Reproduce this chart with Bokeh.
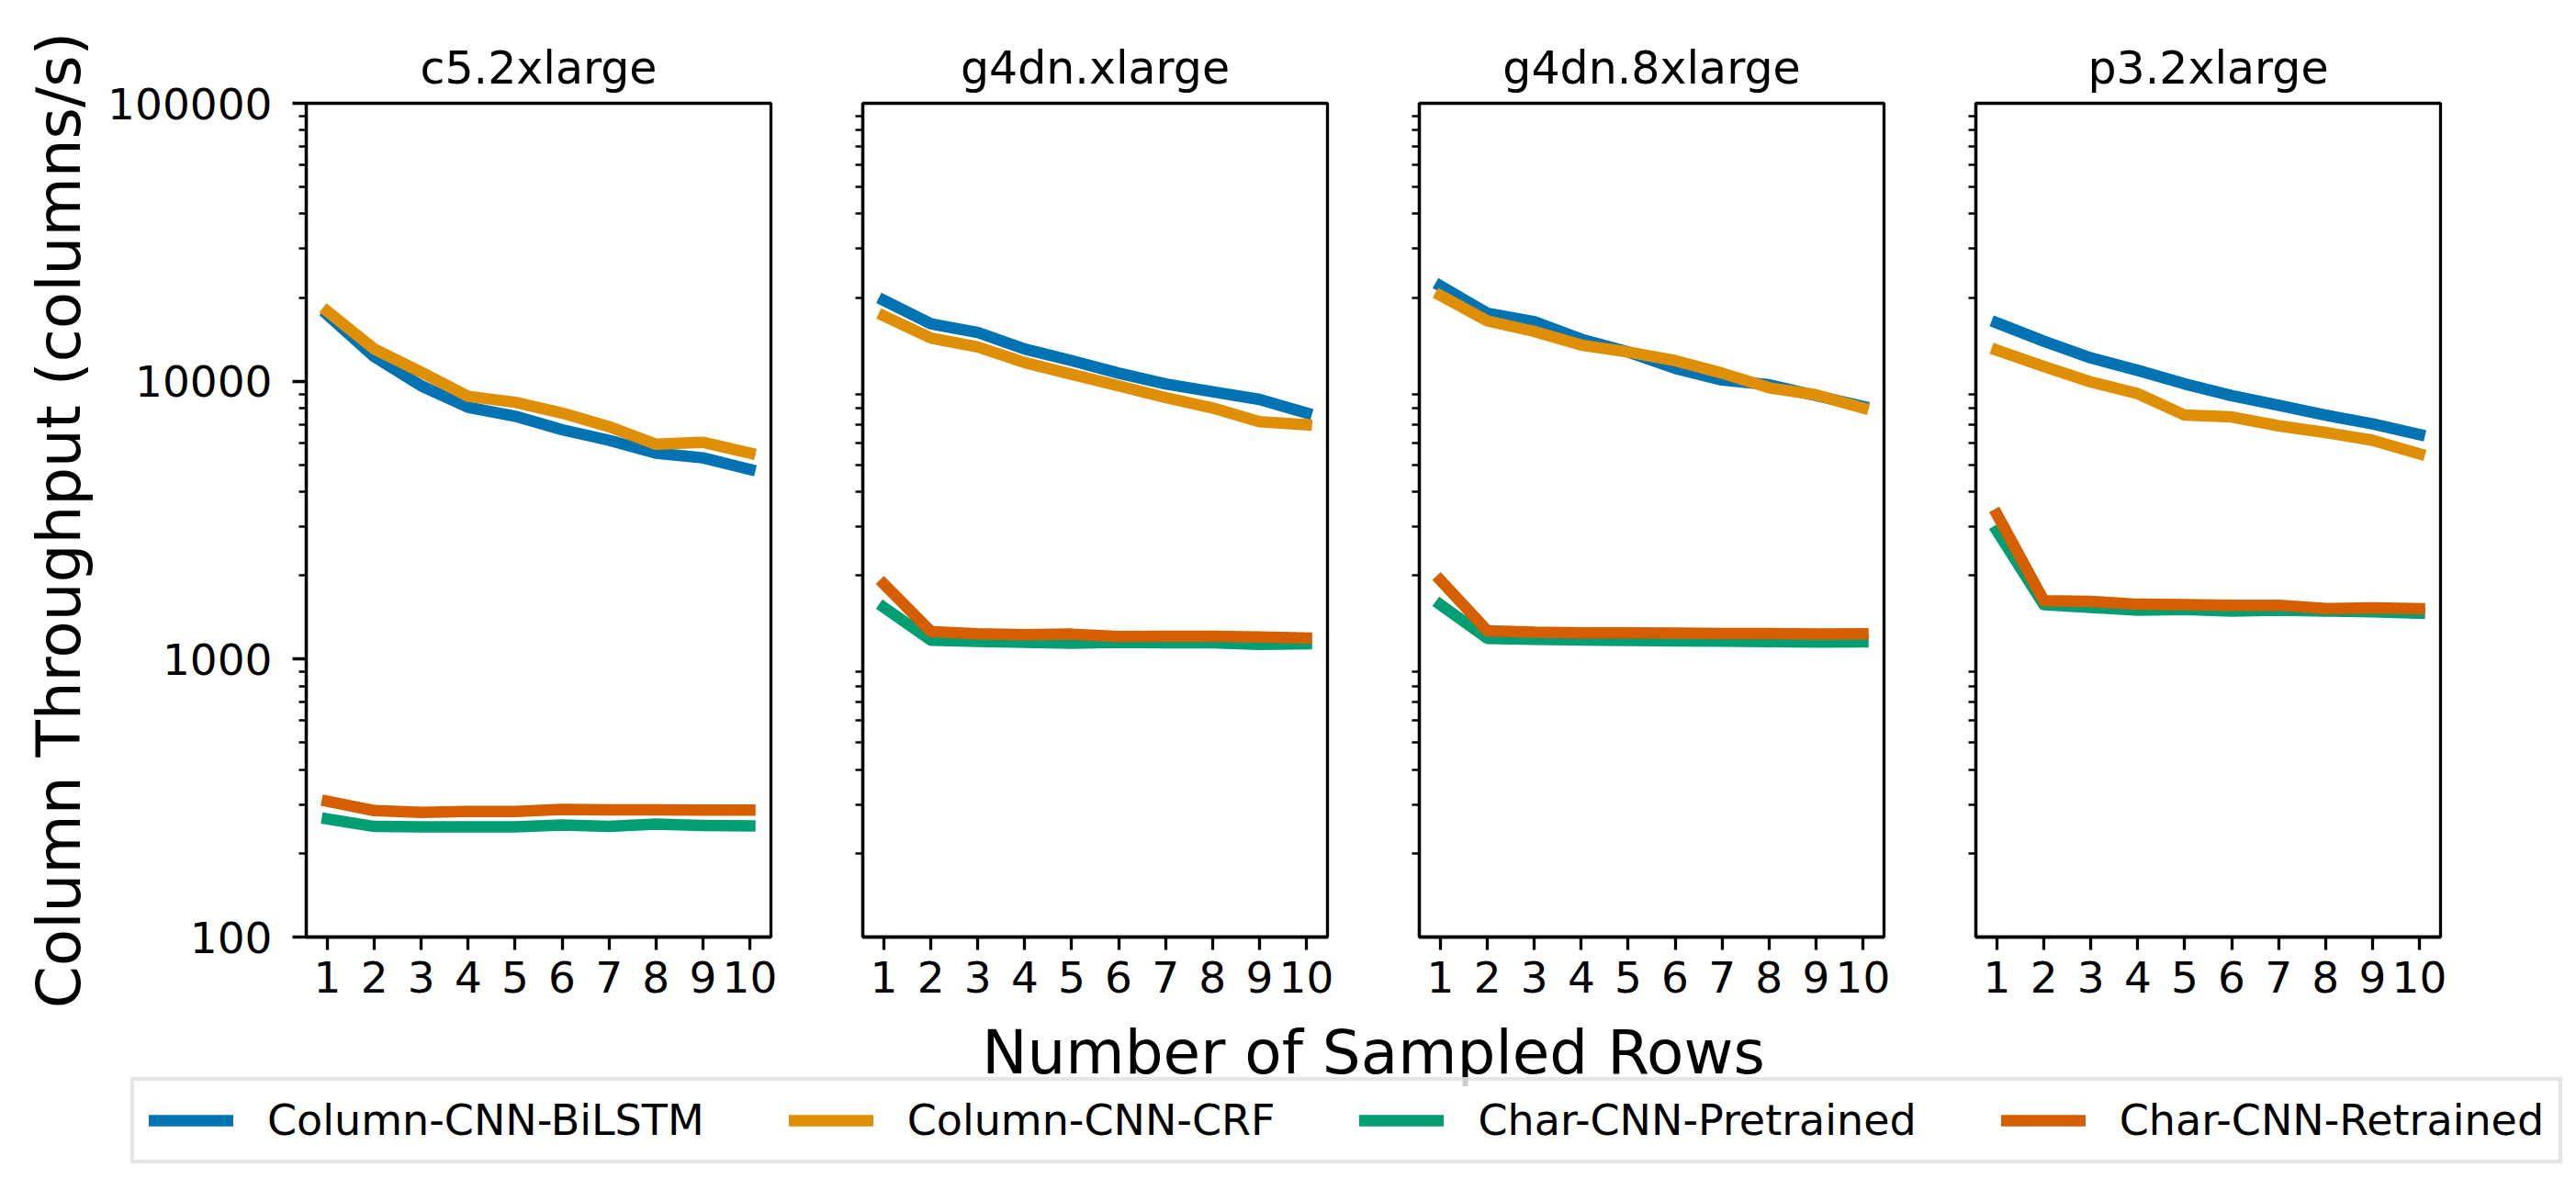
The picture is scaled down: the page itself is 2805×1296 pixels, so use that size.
from bokeh.plotting import figure
from bokeh.layouts import column, row
from bokeh.models import (Range1d, FixedTicker, NumeralTickFormatter, CustomJSTickFormatter,
                          Legend, LegendItem, Label, ColumnDataSource)
from bokeh.embed import file_html
from bokeh.resources import INLINE

# ---------------- data ----------------
sampled_rows = [1, 2, 3, 4, 5, 6, 7, 8, 9, 10]
instances = ["c5.2xlarge", "g4dn.xlarge", "g4dn.8xlarge", "p3.2xlarge"]
model_names = ["Column-CNN-BiLSTM", "Column-CNN-CRF", "Char-CNN-Pretrained", "Char-CNN-Retrained"]
model_colors = ["#0173b2", "#de8f05", "#029e73", "#d55e00"]

c5_bilstm = [17340, 12250, 9620, 8060, 7480, 6690, 6130, 5510, 5300, 4815]
c5_crf = [17850, 13060, 10770, 8820, 8400, 7680, 6860, 5930, 6030, 5510]
c5_pretrained = [266, 250, 249, 249, 249, 253, 250, 255, 252, 251]
c5_retrained = [308, 285, 281, 283, 283, 288, 287, 287, 286, 286]

g4x_bilstm = [19540, 16100, 14960, 13060, 11860, 10690, 9780, 9170, 8600, 7680]
g4x_crf = [17180, 14300, 13280, 11670, 10590, 9620, 8730, 8010, 7150, 6970]
g4x_pretrained = [1535, 1170, 1159, 1150, 1140, 1150, 1145, 1145, 1130, 1135]
g4x_retrained = [1862, 1257, 1233, 1225, 1230, 1205, 1208, 1208, 1200, 1190]

g48x_bilstm = [22020, 17570, 16370, 14160, 12740, 11120, 10100, 9710, 8880, 8110]
g48x_crf = [20370, 16480, 15100, 13490, 12740, 11860, 10690, 9470, 8930, 8010]
g48x_pretrained = [1570, 1187, 1178, 1172, 1167, 1163, 1160, 1156, 1152, 1154]
g48x_retrained = [1923, 1265, 1249, 1244, 1244, 1240, 1235, 1235, 1232, 1234]

p3_bilstm = [16220, 13930, 12130, 10940, 9780, 8870, 8190, 7550, 7020, 6430]
p3_crf = [12940, 11300, 9940, 9020, 7550, 7440, 6910, 6540, 6130, 5480]
p3_pretrained = [2895, 1570, 1535, 1500, 1510, 1490, 1500, 1490, 1480, 1462]
p3_retrained = [3315, 1622, 1612, 1575, 1570, 1563, 1563, 1520, 1530, 1520]

y_major = [100, 1000, 10000, 100000]
y_minor = [m * d for d in (100, 1000, 10000) for m in range(2, 10)]

panel_series = [
    [c5_bilstm, c5_crf, c5_pretrained, c5_retrained],
    [g4x_bilstm, g4x_crf, g4x_pretrained, g4x_retrained],
    [g48x_bilstm, g48x_crf, g48x_pretrained, g48x_retrained],
    [p3_bilstm, p3_crf, p3_pretrained, p3_retrained],
]

# ---------------- layout ----------------
FONT = "DejaVu Sans"
FRAME_W = 506
FRAME_H = 908
TOP = 112
BOTTOM = 85
LINE_W = 12.5

figs = []
for i, (inst, series) in enumerate(zip(instances, panel_series)):
    left = 333 if i == 0 else 50
    right = 40 if i == 3 else 50
    p = figure(width=left + FRAME_W + right, height=TOP + FRAME_H + BOTTOM,
               x_range=Range1d(0.55, 10.45), y_range=Range1d(100, 100000),
               y_axis_type="log", title=inst, output_backend="svg",
               toolbar_location=None, min_border_left=left, min_border_right=right,
               min_border_top=TOP, min_border_bottom=BOTTOM)
    p.title.align = "center"
    p.title.text_font = FONT
    p.title.text_font_size = "49px"
    p.title.text_font_style = "normal"
    p.title.text_color = "black"
    p.title.standoff = 20
    p.grid.visible = False
    p.outline_line_color = "black"
    p.outline_line_width = 3.3
    p.background_fill_color = "white"

    xa = p.xaxis[0]
    xa.ticker = FixedTicker(ticks=sampled_rows, minor_ticks=[])
    xa.major_label_text_font = FONT
    xa.major_label_text_font_size = "47px"
    xa.major_label_text_color = "black"
    xa.major_tick_in = 0
    xa.major_tick_out = 14
    xa.major_tick_line_width = 3.3
    xa.minor_tick_out = 0
    xa.axis_line_width = 3.3
    xa.major_label_standoff = 12

    ya = p.yaxis[0]
    ya.ticker = FixedTicker(ticks=y_major, minor_ticks=y_minor)
    ya.major_tick_in = 0
    ya.minor_tick_in = 0
    ya.minor_tick_out = 8
    ya.major_tick_line_width = 3.3
    ya.minor_tick_line_width = 2.5
    ya.axis_line_width = 3.3
    if i == 0:
        ya.formatter = NumeralTickFormatter(format="0")
        ya.major_tick_out = 15
        ya.major_label_standoff = 22
        ya.major_label_text_font = FONT
        ya.major_label_text_font_size = "47px"
        ya.major_label_text_color = "black"
        ya.axis_label = "Column Throughput (columns/s)"
        ya.axis_label_text_font = FONT
        ya.axis_label_text_font_size = "66px"
        ya.axis_label_text_font_style = "normal"
        ya.axis_label_text_color = "black"
        ya.axis_label_standoff = 11
    else:
        ya.formatter = CustomJSTickFormatter(code="return '';")
        ya.major_tick_out = 0
        ya.major_label_standoff = 0

    for vals, col in zip(series, model_colors):
        p.line(sampled_rows, vals, line_color=col, line_width=LINE_W,
               line_cap="square", line_join="round")
    figs.append(p)

BW = 2797
BH = 180
bottom = figure(width=BW, height=BH, x_range=Range1d(0, BW), y_range=Range1d(0, BH),
                x_axis_location=None, y_axis_location=None, toolbar_location=None,
                output_backend="svg", min_border=0, outline_line_color=None, title=None)
bottom.grid.visible = False

# legend-only renderers (a single NaN point, nothing is drawn on the canvas)
legend_src = ColumnDataSource(data=dict(x=[float("nan")], y=[float("nan")]))
renderers = [bottom.line(x="x", y="y", source=legend_src, line_color=c, line_width=LINE_W,
                         line_cap="square") for c in model_colors]
legend = Legend(items=[LegendItem(label=n, renderers=[r]) for n, r in zip(model_names, renderers)],
                orientation="horizontal", location=(142, 18), padding=16, spacing=92,
                glyph_width=92, glyph_height=48, label_height=48, label_standoff=37,
                label_text_font=FONT, label_text_font_size="46px", label_text_color="black",
                border_line_color="#cccccc", border_line_width=4,
                background_fill_color="white", background_fill_alpha=0.8, margin=0)
bottom.add_layout(legend, "center")

bottom.add_layout(Label(x=1495, y=BH - 41, text="Number of Sampled Rows", text_align="center",
                        text_baseline="alphabetic", text_font=FONT, text_font_size="66px",
                        text_color="black"))

layout = column(row(*figs), bottom)
open("out.html", "w").write(file_html(layout, INLINE))
